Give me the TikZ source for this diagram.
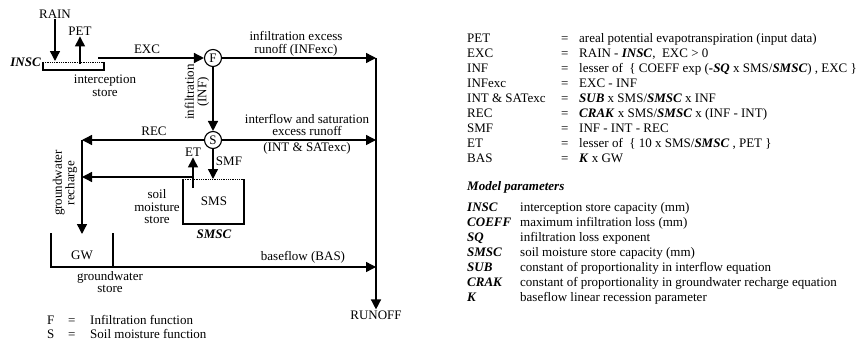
\documentclass[tikz,border=0pt]{standalone}
\usepackage{fontspec}
\setmainfont{Liberation Serif}
\usetikzlibrary{arrows.meta,positioning,calc}
\newcommand{\bi}[1]{\textbf{\textit{#1}}}

\begin{document}
\begin{tikzpicture}
    [x=1pt, y=-1pt,
     font=\fontsize{13}{12.5}\selectfont,
     flow/.style={draw, line width=1.4pt, -{Triangle[length=10pt,width=10pt]}},
     wall/.style={draw, line width=1.1pt},
     rim/.style={draw, line width=0.8pt, densely dotted},
     fn/.style={circle, draw, line width=1.1pt, inner sep=0pt, minimum size=17pt},
     lbl/.style={inner sep=1pt, align=center},
     eqn/.style={anchor=base west, inner sep=0pt}
    ]
    \useasboundingbox (0,0) rectangle (862,343);

    % interception store
    \draw[wall] (43,62) -- (43,70) -- (104,70) -- (104,62);
    \draw[rim] (43,62) -- (104,62);
    \node[lbl, anchor=east] (insc) at (42,62) {\bi{INSC}};
    \node[lbl] (istore) at (105,86) {interception\\store};
    \node[lbl] (rain) at (55,14) {RAIN};
    \coordinate (rainin) at (55,61);
    \draw[flow] (rain) -- (rainin);
    \node[lbl] (pet) at (80,31) {PET};
    \coordinate (petout) at (80,64);
    \draw[flow] (petout) -- (pet);

    % functions
    \node[fn] (F) at (213,58) {F};
    \node[fn] (S) at (213,140) {S};
    \coordinate (excout) at (98,58);
    \draw[flow] (excout) -- (F);
    \node[lbl] (exc) at (147,49) {EXC};
    \draw[flow] (F) -- (S);
    \node[lbl, rotate=90] (inf) at (197,92) {infiltration\\(INF)};

    % runoff column
    \coordinate (c1) at (376,58);
    \coordinate (c2) at (376,140);
    \coordinate (c3) at (376,267);
    \node[lbl] (runoff) at (376,315) {RUNOFF};
    \draw[flow] (F) -- (c1);
    \draw[flow] (c1) -- (runoff);
    \node[lbl] (infexc) at (296,44) {infiltration excess\\runoff (INFexc)};
    \draw[flow] (S) -- (c2);
    \node[lbl] (intsat) at (307,125) {interflow and saturation\\excess runoff};
    \node[lbl] (intsatb) at (307,148) {(INT \& SATexc)};

    % recharge
    \coordinate (recturn) at (82,140);
    \coordinate (gwin) at (82,234);
    \draw[flow] (S) -- (recturn);
    \draw[flow] (recturn) -- (gwin);
    \node[lbl] (rec) at (154,131) {REC};
    \node[lbl, rotate=90] (gwrech) at (65,183) {groundwater\\recharge};

    % soil moisture store
    \draw[wall] (183,179) -- (183,224) -- (244,224) -- (244,179);
    \draw[rim] (183,179) -- (244,179);
    \node[lbl] (sms) at (214,201) {SMS};
    \node[lbl] (smsc) at (214,234) {\bi{SMSC}};
    \node[lbl] (smstore) at (157,207) {soil\\moisture\\store};
    \coordinate (smstop) at (213,179);
    \draw[flow] (S) -- (smstop);
    \node[lbl] (smf) at (229,161) {SMF};
    \node[lbl] (et) at (193,152) {ET};
    \coordinate (etbase) at (193,188);
    \draw[flow] (etbase) -- (et);
    \coordinate (leak) at (193,177);
    \coordinate (rechin) at (82,177);
    \draw[flow] (leak) -- (rechin);

    % groundwater store
    \draw[wall] (51,233) -- (51,267) -- (113,267);
    \draw[wall] (113,233) -- (113,267);
    \node[lbl] (gw) at (82,255) {GW};
    \node[lbl] (gwstore) at (110,282) {groundwater\\store};
    \coordinate (gwout) at (113,267);
    \draw[flow] (gwout) -- (c3);
    \node[lbl] (bas) at (303,257) {baseflow (BAS)};

    % legend
    \node[eqn] (kf) at (47,324) {F};
    \node[eqn] (kfe) at (68,324) {=};
    \node[eqn] (kft) at (90,324) {Infiltration function};
    \node[eqn] (ks) at (47,338) {S};
    \node[eqn] (kse) at (68,338) {=};
    \node[eqn] (kst) at (90,338) {Soil moisture function};

    % equations
    \begin{scope}[font=\fontsize{13}{15}\selectfont]
    \node[eqn] (l1) at (467,42) {PET};
    \node[eqn] (e1) at (561,42) {=};
    \node[eqn] (r1) at (579,42) {areal potential evapotranspiration (input data)};
    \node[eqn] (l2) at (467,57) {EXC};
    \node[eqn] (e2) at (561,57) {=};
    \node[eqn] (r2) at (579,57) {RAIN - \bi{INSC},\ \ EXC > 0};
    \node[eqn] (l3) at (467,72) {INF};
    \node[eqn] (e3) at (561,72) {=};
    \node[eqn] (r3) at (579,72) {lesser of\ \ \{ COEFF exp (\bi{-SQ} x SMS/\bi{SMSC}) , EXC \}};
    \node[eqn] (l4) at (467,87) {INFexc};
    \node[eqn] (e4) at (561,87) {=};
    \node[eqn] (r4) at (579,87) {EXC - INF};
    \node[eqn] (l5) at (467,102) {INT \& SATexc};
    \node[eqn] (e5) at (561,102) {=};
    \node[eqn] (r5) at (579,102) {\bi{SUB} x SMS/\bi{SMSC} x INF};
    \node[eqn] (l6) at (467,117) {REC};
    \node[eqn] (e6) at (561,117) {=};
    \node[eqn] (r6) at (579,117) {\bi{CRAK} x SMS/\bi{SMSC} x (INF - INT)};
    \node[eqn] (l7) at (467,132) {SMF};
    \node[eqn] (e7) at (561,132) {=};
    \node[eqn] (r7) at (579,132) {INF - INT - REC};
    \node[eqn] (l8) at (467,147) {ET};
    \node[eqn] (e8) at (561,147) {=};
    \node[eqn] (r8) at (579,147) {lesser of\ \ \{ 10 x SMS/\bi{SMSC} , PET \}};
    \node[eqn] (l9) at (467,162) {BAS};
    \node[eqn] (e9) at (561,162) {=};
    \node[eqn] (r9) at (579,162) {\bi{K} x GW};

    % parameters
    \node[eqn] (mp) at (467,190) {\bi{Model parameters}};
    \node[eqn] (p1) at (467,211) {\bi{INSC}};
    \node[eqn] (d1) at (520,211) {interception store capacity (mm)};
    \node[eqn] (p2) at (467,226) {\bi{COEFF}};
    \node[eqn] (d2) at (520,226) {maximum infiltration loss (mm)};
    \node[eqn] (p3) at (467,241) {\bi{SQ}};
    \node[eqn] (d3) at (520,241) {infiltration loss exponent};
    \node[eqn] (p4) at (467,256) {\bi{SMSC}};
    \node[eqn] (d4) at (520,256) {soil moisture store capacity (mm)};
    \node[eqn] (p5) at (467,271) {\bi{SUB}};
    \node[eqn] (d5) at (520,271) {constant of proportionality in interflow equation};
    \node[eqn] (p6) at (467,286) {\bi{CRAK}};
    \node[eqn] (d6) at (520,286) {constant of proportionality in groundwater recharge equation};
    \node[eqn] (p7) at (467,301) {\bi{K}};
    \node[eqn] (d7) at (520,301) {baseflow linear recession parameter};
    \end{scope}
\end{tikzpicture}
\end{document}
